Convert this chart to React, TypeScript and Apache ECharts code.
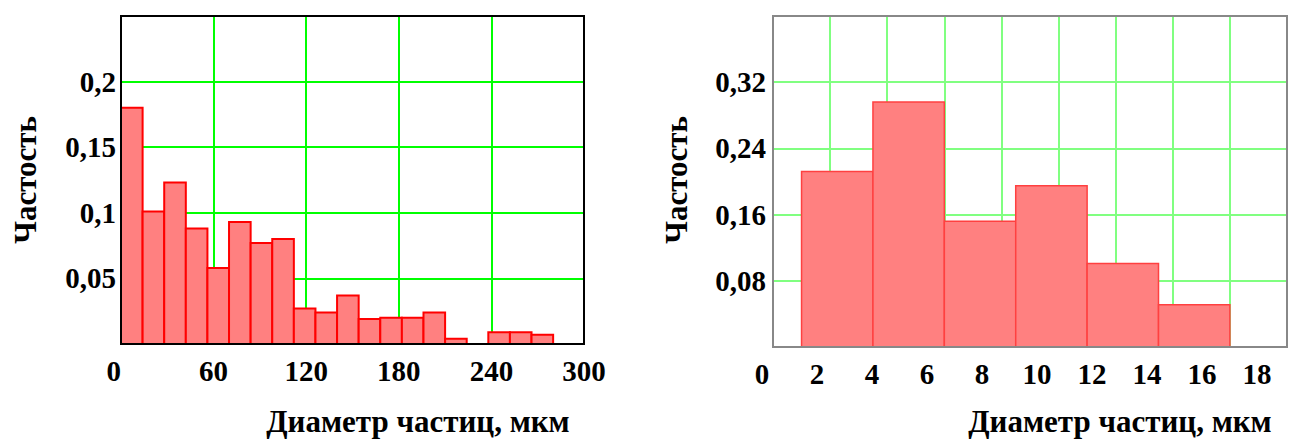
import React, { useEffect, useRef } from "react";
import * as echarts from "echarts";

const leftEdges = [0, 14, 28, 42, 56, 70, 84, 98, 112, 126, 140, 154, 168, 182, 196, 210, 224, 238, 252, 266, 280];
const leftFreq = [0.18, 0.101, 0.123, 0.088, 0.058, 0.093, 0.077, 0.08, 0.027, 0.024, 0.037, 0.019, 0.02, 0.02, 0.024, 0.004, 0, 0.009, 0.009, 0.007];

const rightEdges = [1, 3.5, 6, 8.5, 11, 13.5, 16];
const rightFreq = [0.212, 0.296, 0.152, 0.195, 0.101, 0.051];

const yName = "Частость";
const xName = "Диаметр частиц, мкм";

const FONT = "Liberation Serif";

function toBins(edges: number[], freq: number[]) {
  return freq.map((f, i) => [edges[i], edges[i + 1], f]);
}

function fmtY(max: number) {
  return (v: number) => {
    if (v <= 1e-9 || v >= max - 1e-9) return "";
    return String(+v.toFixed(2)).replace(".", ",");
  };
}

function histSeries(idx: number, data: number[][], fill: string, stroke: string, lw: number) {
  return {
    type: "custom",
    xAxisIndex: idx,
    yAxisIndex: idx,
    data,
    encode: { x: [0, 1], y: 2 },
    z: 5,
    renderItem: (params: any, api: any) => {
      const x0 = api.value(0);
      const x1 = api.value(1);
      const y = api.value(2);
      if (!y) return null;
      const p0 = api.coord([x0, y]);
      const p1 = api.coord([x1, 0]);
      return {
        type: "rect",
        shape: { x: p0[0], y: p0[1], width: p1[0] - p0[0], height: p1[1] - p0[1] },
        style: { fill, stroke, lineWidth: lw },
      };
    },
  };
}

export default function App() {
  const ref = useRef<HTMLDivElement>(null);
  useEffect(() => {
    if (!ref.current) return;
    const chart = echarts.init(ref.current, undefined, { renderer: "svg" });
    const labelStyle = { fontFamily: FONT, fontWeight: "bold" as const, fontSize: 29, color: "#000" };
    const titleStyle = { fontFamily: FONT, fontWeight: "bold", fontSize: 31, fill: "#000", align: "center", verticalAlign: "middle" };
    const greenL = "#00ff00";
    const greenR = "#80ff80";
    const option: any = {
      animation: false,
      backgroundColor: "#fff",
      grid: [
        { left: 121, top: 16, width: 463, height: 328, show: true, borderColor: "#000", borderWidth: 2, z: 10 },
        { left: 773, top: 16, width: 514, height: 331, show: true, borderColor: "#888", borderWidth: 2, z: 10 },
        { left: 762, top: 16, width: 495, height: 331, show: false },
      ],
      xAxis: [
        {
          gridIndex: 0, type: "value", min: 0, max: 300, interval: 60,
          axisLine: { show: false }, axisTick: { show: false },
          axisLabel: { ...labelStyle, margin: 12, alignMinLabel: "right", formatter: (v: number) => String(v) },
          splitLine: { show: true, lineStyle: { color: ["transparent", greenL, greenL, greenL, greenL, "transparent"], width: 2 } },
        },
        {
          gridIndex: 1, type: "value", min: 0, max: 18, interval: 2,
          axisLine: { show: false }, axisTick: { show: false },
          axisLabel: { show: false },
          splitLine: { show: true, lineStyle: { color: ["transparent", greenR, greenR, greenR, greenR, greenR, greenR, greenR, greenR, "transparent"], width: 2 } },
        },
        {
          gridIndex: 2, type: "value", min: 0, max: 18, interval: 2,
          axisLine: { show: false }, axisTick: { show: false },
          axisLabel: { ...labelStyle, margin: 12, formatter: (v: number) => String(v) },
          splitLine: { show: false },
        },
      ],
      yAxis: [
        {
          gridIndex: 0, type: "value", min: 0, max: 0.25, interval: 0.05,
          axisLine: { show: false }, axisTick: { show: false },
          axisLabel: { ...labelStyle, margin: 5, formatter: fmtY(0.25) },
          splitLine: { show: true, lineStyle: { color: ["transparent", greenL, greenL, greenL, greenL, "transparent"], width: 2 } },
        },
        {
          gridIndex: 1, type: "value", min: 0, max: 0.4, interval: 0.08,
          axisLine: { show: false }, axisTick: { show: false },
          axisLabel: { ...labelStyle, margin: 7, formatter: fmtY(0.4) },
          splitLine: { show: true, lineStyle: { color: ["transparent", greenR, greenR, greenR, greenR, "transparent"], width: 2 } },
        },
        {
          gridIndex: 2, type: "value", min: 0, max: 0.4, show: false,
        },
      ],
      graphic: [
        { type: "text", x: 25, y: 180, rotation: Math.PI / 2, style: { ...titleStyle, text: yName } },
        { type: "text", x: 676, y: 180, rotation: Math.PI / 2, style: { ...titleStyle, text: yName } },
        { type: "text", x: 418, y: 421, style: { ...titleStyle, text: xName } },
        { type: "text", x: 1120, y: 421, style: { ...titleStyle, text: xName } },
      ],
      series: [
        histSeries(0, toBins(leftEdges, leftFreq), "#ff8080", "#ff0000", 2),
        histSeries(1, toBins(rightEdges, rightFreq), "#ff8080", "#ff4040", 1.5),
      ],
    };
    chart.setOption(option);
    return () => chart.dispose();
  }, []);
  return <div ref={ref} style={{ position: "absolute", left: 0, top: 0, width: 1304, height: 440 }} />;
}
